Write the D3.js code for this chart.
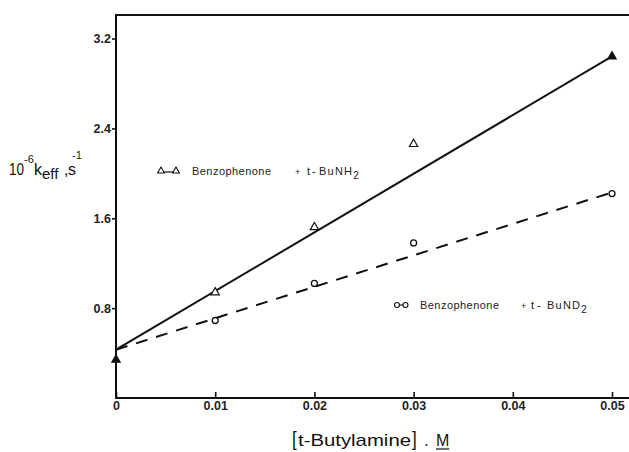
<!DOCTYPE html>
<html>
<head>
<meta charset="utf-8">
<script src="https://cdn.jsdelivr.net/npm/d3@7"></script>
<style>
  html, body { margin: 0; padding: 0; background: #fff; }
  svg { display: block; font-family: "Liberation Sans", Arial, sans-serif; }
</style>
</head>
<body>
<svg id="svg" width="629" height="452"></svg>
<script>
// amine concentration, M
var concNH2 = [0, 0.01, 0.02, 0.03, 0.05];
var kNH2 = [0.34, 0.94, 1.52, 2.26, 3.04];
var concND2 = [0.01, 0.02, 0.03, 0.05];
var kND2 = [0.69, 1.02, 1.38, 1.82];
// fitted straight lines (end points)
var fitNH2 = [[0, 0.43], [0.05, 3.04]];
var fitND2 = [[0, 0.43], [0.05, 1.83]];
var xTicks = [0, 0.01, 0.02, 0.03, 0.04, 0.05];
var xTickLabels = ['0', '0.01', '0.02', '0.03', '0.04', '0.05'];
var yTicks = [0.8, 1.6, 2.4, 3.2];
var yTickLabels = ['0.8', '1.6', '2.4', '3.2'];

(function() {
    'use strict';

    var svg = d3.select('#svg');
    var left = 116, top = 15, right = 629, bottom = 398;

    var x = d3.scaleLinear().domain([0, 0.05]).range([left, 612]);
    var y = d3.scaleLinear().domain([0, 3.2]).range([bottom, 38.5]);

    // frame: left, top, bottom lines (no right edge)
    svg.append('path')
        .attr('d', 'M' + right + ',' + top + 'H' + left + 'V' + bottom + 'H' + right)
        .attr('stroke', '#111')
        .attr('stroke-width', 2)
        .attr('fill', 'none');

    // y axis ticks point outward
    var yAxis = d3.axisLeft(y)
        .tickValues(yTicks)
        .tickSize(4)
        .tickPadding(1)
        .tickFormat(function (d, i) { return yTickLabels[i]; });
    var gy = svg.append('g')
        .attr('transform', 'translate(' + left + ',0)')
        .call(yAxis);
    gy.select('.domain').remove();
    gy.selectAll('line').attr('stroke', '#111').attr('stroke-width', 1.6);
    gy.selectAll('text')
        .attr('font-size', 12.5)
        .attr('font-weight', 'bold')
        .attr('fill', '#222')
        .attr('font-family', '"Liberation Sans", Arial, sans-serif');

    // x axis ticks point inward
    var xAxis = d3.axisBottom(x)
        .tickValues(xTicks)
        .tickSize(-6)
        .tickPadding(3)
        .tickFormat(function (d, i) { return xTickLabels[i]; });
    var gx = svg.append('g')
        .attr('transform', 'translate(0,' + bottom + ')')
        .call(xAxis);
    gx.select('.domain').remove();
    gx.selectAll('line').attr('stroke', '#111').attr('stroke-width', 1.6);
    gx.selectAll('text')
        .attr('font-size', 12.5)
        .attr('font-weight', 'bold')
        .attr('fill', '#222')
        .attr('font-family', '"Liberation Sans", Arial, sans-serif');

    var line = d3.line()
        .x(function (d) { return x(d[0]); })
        .y(function (d) { return y(d[1]); });

    svg.append('path')
        .datum(fitNH2)
        .attr('d', line)
        .attr('fill', 'none')
        .attr('stroke', '#111')
        .attr('stroke-width', 2);

    svg.append('path')
        .datum(fitND2)
        .attr('d', line)
        .attr('fill', 'none')
        .attr('stroke', '#111')
        .attr('stroke-width', 2)
        .attr('stroke-dasharray', '12,9');

    var tri = d3.symbol().type(d3.symbolTriangle).size(30);
    var filledAt = [0, 0.05];

    svg.selectAll('.nd2')
        .data(concND2.map(function (c, i) { return [c, kND2[i]]; }))
        .enter()
        .append('circle')
        .classed('nd2', true)
        .attr('cx', function (d) { return x(d[0]); })
        .attr('cy', function (d) { return y(d[1]); })
        .attr('r', 3)
        .attr('fill', '#fff')
        .attr('stroke', '#111')
        .attr('stroke-width', 1.3);

    svg.selectAll('.nh2')
        .data(concNH2.map(function (c, i) { return [c, kNH2[i]]; }))
        .enter()
        .append('path')
        .classed('nh2', true)
        .attr('d', tri)
        .attr('transform', function (d) {
            return 'translate(' + [x(d[0]), y(d[1])] + ')';
        })
        .attr('fill', function (d) { return filledAt.indexOf(d[0]) >= 0 ? '#111' : '#fff'; })
        .attr('stroke', '#111')
        .attr('stroke-width', 1.2);

    // legends
    var legendText = function (g, xs, yb, sub) {
        var t = g.append('text')
            .attr('y', yb)
            .attr('font-size', 11)
            .attr('fill', '#222');
        t.append('tspan').attr('x', xs[0])
            .attr('textLength', 79).attr('lengthAdjust', 'spacing')
            .text('Benzophenone');
        t.append('tspan').attr('x', xs[1]).attr('font-size', 9).text('+');
        t.append('tspan').attr('x', xs[2]).text('t');
        t.append('tspan').attr('x', xs[3]).text('-');
        t.append('tspan').attr('x', xs[4])
            .attr('textLength', 33).attr('lengthAdjust', 'spacing')
            .text('Bu' + sub);
        t.append('tspan').attr('dy', 3.5).attr('font-size', 10).text('2');
    };

    var leg1 = svg.append('g');
    leg1.append('line')
        .attr('x1', 162).attr('x2', 176).attr('y1', 172).attr('y2', 172)
        .attr('stroke', '#111').attr('stroke-width', 1.2);
    [161, 176].forEach(function (cx) {
        leg1.append('path')
            .attr('d', d3.symbol().type(d3.symbolTriangle).size(20))
            .attr('transform', 'translate(' + cx + ',171)')
            .attr('fill', '#fff').attr('stroke', '#111').attr('stroke-width', 1.1);
    });
    legendText(leg1, [192, 295, 307, 312, 319], 175, 'NH');

    var leg2 = svg.append('g');
    leg2.append('line')
        .attr('x1', 398).attr('x2', 404).attr('y1', 305).attr('y2', 305)
        .attr('stroke', '#111').attr('stroke-width', 1.1);
    [397, 405.5].forEach(function (cx) {
        leg2.append('circle')
            .attr('cx', cx).attr('cy', 305).attr('r', 2.5)
            .attr('fill', '#fff').attr('stroke', '#111').attr('stroke-width', 1.1);
    });
    legendText(leg2, [420, 521, 531, 537, 547], 309, 'ND');

    // y axis label: 10^-6 k_eff, s^-1 (separate pieces so each can sit where the scan has it)
    var yl = svg.append('g').attr('fill', '#111');
    var piece = function (px, py, size, str) {
        return yl.append('text').attr('x', px).attr('y', py).attr('font-size', size).text(str);
    };
    piece(9, 175, 16, '10').attr('textLength', 15).attr('lengthAdjust', 'spacingAndGlyphs');
    piece(24, 163, 11, '-6');
    piece(34, 175, 16, 'k');
    piece(42, 179, 15, 'eff');
    piece(64, 175, 16, ',');
    piece(68, 175, 16, 's');
    piece(72, 159, 11, '-1');

    // x axis label: [t-Butylamine], M
    var xl = svg.append('g').attr('fill', '#111');
    xl.append('text')
        .attr('x', 292)
        .attr('y', 446)
        .attr('font-size', 17)
        .attr('transform', 'translate(292,446) scale(1,1.2) translate(-292,-446)')
        .text('[');
    xl.append('text')
        .attr('x', 298)
        .attr('y', 446)
        .attr('font-size', 17)
        .attr('textLength', 113)
        .attr('lengthAdjust', 'spacingAndGlyphs')
        .text('t-Butylamine');
    xl.append('text')
        .attr('x', 412)
        .attr('y', 446)
        .attr('font-size', 17)
        .attr('transform', 'translate(412,446) scale(1,1.2) translate(-412,-446)')
        .text(']');
    xl.append('text')
        .attr('x', 424)
        .attr('y', 446)
        .attr('font-size', 17)
        .text('.');
    var m = xl.append('text')
        .attr('x', 436)
        .attr('y', 446)
        .attr('font-size', 16)
        .text('M');
    var mb = m.node().getBBox();
    xl.append('line')
        .attr('x1', mb.x).attr('x2', mb.x + mb.width)
        .attr('y1', 449).attr('y2', 449)
        .attr('stroke', '#111').attr('stroke-width', 1.2);
})();
</script>
</body>
</html>
